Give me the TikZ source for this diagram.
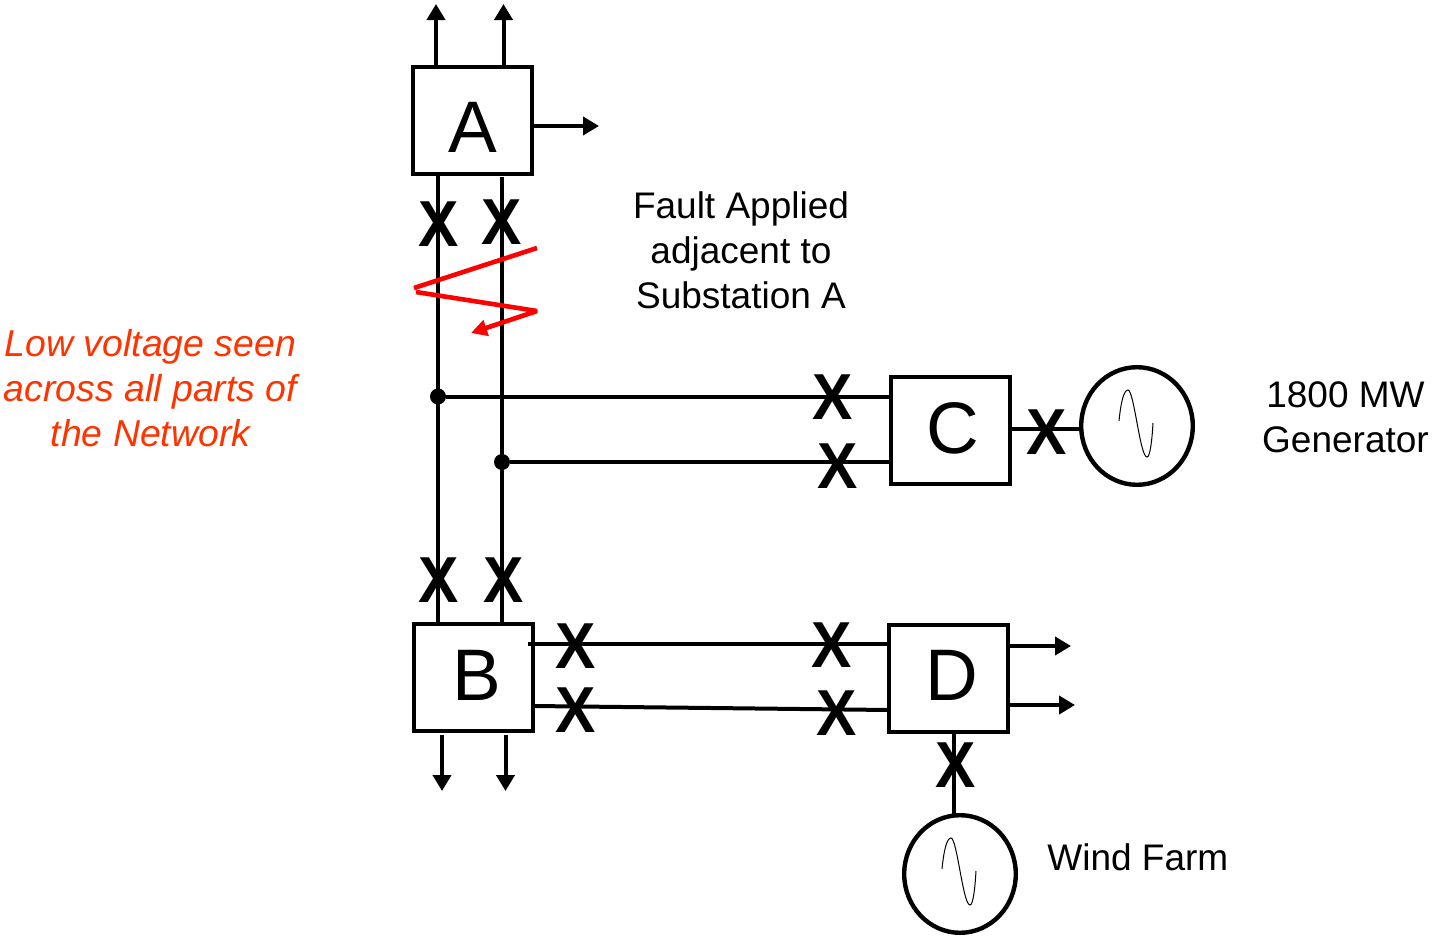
\documentclass[tikz,border=0pt]{standalone}
\usepackage{fontspec}
\setmainfont{Liberation Sans}
\usetikzlibrary{arrows.meta,shapes.geometric}
\definecolor{faultred}{RGB}{255,0,0}
\definecolor{notered}{RGB}{255,51,0}
\tikzset{
	wire/.style={line width=2pt},
	arrowwire/.style={line width=2pt, -{Triangle[length=8pt,width=9pt]}},
	faultline/.style={line width=2.3pt, faultred},
	substation/.style={draw, line width=2pt, rectangle, inner sep=0pt, outer sep=0pt, minimum width=59.5pt, minimum height=53.5pt},
	generator/.style={draw, line width=2.2pt, ellipse, inner sep=0pt, outer sep=0pt, minimum width=55.8pt, minimum height=58.8pt},
	junction/.style={fill=black, circle, inner sep=0pt, minimum size=8pt},
	breaker/.style={inner sep=0pt, font=\fontsize{32.5}{32.5}\selectfont\bfseries},
	boxletter/.style={inner sep=0pt, font=\fontsize{36.5}{36.5}\selectfont},
	caption/.style={inner sep=0pt, align=center, font=\fontsize{18.5}{22.5}\selectfont}
}
\begin{document}
\begin{tikzpicture}[x=0.5pt, y=-0.5pt]
	\useasboundingbox (0,0) rectangle (1432,937);
	% SUBSTATIONS
	\node[substation] (boxA) at (472.5,120.5) {};
	\node[substation] (boxB) at (473.5,677.5) {};
	\node[substation] (boxC) at (950.5,430.5) {};
	\node[substation] (boxD) at (948.5,678) {};
	\node[boxletter] (letterA) at (473,127) {A};
	\node[boxletter] (letterB) at (476.5,675) {B};
	\node[boxletter] (letterC) at (953,428) {C};
	\node[boxletter] (letterD) at (952,675) {D};
	\node[generator] (genC) at (1137,426) {};
	\node[generator] (genD) at (960,874) {};
	% BUSES
	\node[junction] (dotL) at (438,396.5) {};
	\node[junction] (dotR) at (502,462) {};
	\draw[wire] (dotL |- boxA.south) -- (dotL |- boxB.north);
	\draw[wire] (dotR |- 0,177) -- (dotR |- boxB.north);
	\draw[wire] (dotL) -- (dotL -| boxC.west);
	\draw[wire] (dotR) -- (dotR -| boxC.west);
	\draw[wire] (boxC.east |- 0,429) -- (genC.west |- 0,429);
	\draw[wire] (954,731) -- (genD.north -| 954,0);
	\draw[wire] (528,644) -- (boxD.west |- 0,644);
	\draw[wire] (boxB.east |- 0,706) -- (boxD.west |- 0,710);
	% FREE ENDS
	\coordinate (tipAa) at (436,4);
	\coordinate (tipAb) at (503.5,4);
	\coordinate (tipAc) at (599,126);
	\coordinate (tipBa) at (442,791);
	\coordinate (tipBb) at (505.5,791);
	\coordinate (tipDa) at (1071,646);
	\coordinate (tipDb) at (1075,705);
	\draw[arrowwire] (tipAa |- boxA.north) -- (tipAa);
	\draw[arrowwire] (tipAb |- boxA.north) -- (tipAb);
	\draw[arrowwire] (boxA.east |- tipAc) -- (tipAc);
	\draw[arrowwire] (tipBa |- 0,735) -- (tipBa);
	\draw[arrowwire] (tipBb |- 0,735) -- (tipBb);
	\draw[arrowwire] (1006,646) -- (tipDa);
	\draw[arrowwire] (boxD.east |- tipDb) -- (tipDb);
	% BREAKERS
	\foreach \brkname/\brkx/\brky in {brkAa/439/224.5, brkAb/502/222, brkBa/438.5/580, brkBb/504/580, brkCa/833/397.5, brkCb/838/466, brkCc/1047/432, brkBc/575.5/646, brkBd/575.5/710, brkDa/831.5/645, brkDb/836.5/713, brkDc/955.5/765}
		\node[breaker] (\brkname) at (\brkx,\brky) {\scalebox{0.93}[1]{X}};
	% GENERATOR WAVES
	\foreach \genname in {genC,genD}
		\draw[line width=0.5pt, shift={(\genname.center)}] (-18,-5) .. controls (-16,-25) and (-13,-36) .. (-9,-36) .. controls (-3,-36) and (3,31) .. (10,31) .. controls (13,31) and (15,15) .. (16,-3);
	% FAULT
	\coordinate (faultA) at (537,248);
	\coordinate (faultB) at (414,288);
	\coordinate (faultC) at (416,292);
	\coordinate (faultD) at (537,311);
	\coordinate (faultE) at (471,333);
	\draw[faultline] (faultA) -- (faultB);
	\draw[faultline, -{Triangle[length=8pt,width=8pt]}, line join=bevel] (faultC) -- (faultD) -- (faultE);
	% TEXT
	\node[caption] (faultText) at (741,250) {Fault Applied\\adjacent to\\Substation A};
	\node[caption, text=notered, font=\fontsize{18.7}{22.5}\selectfont\itshape] (lowText) at (150.5,388.5) {Low voltage seen\\across all parts of\\the Network};
	\node[caption] (genText) at (1345.5,417.5) {1800 MW\\Generator};
	\node[caption, anchor=west] (windText) at (1047,857) {Wind Farm};
\end{tikzpicture}
\end{document}
